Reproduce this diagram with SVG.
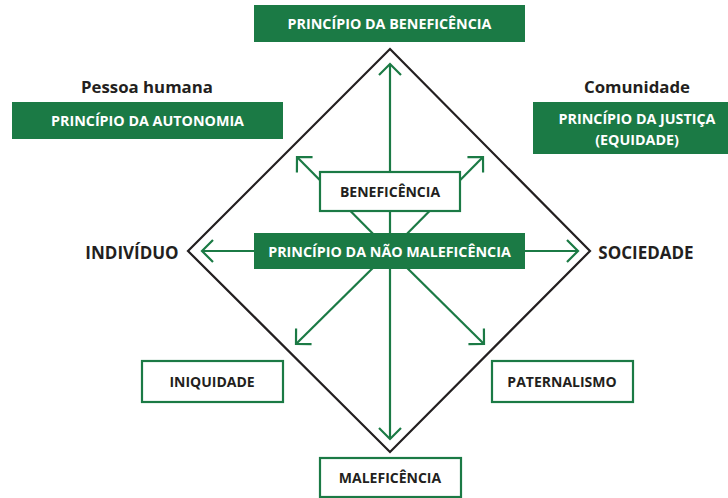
<svg xmlns="http://www.w3.org/2000/svg" width="728" height="498" viewBox="0 0 728 498">
<defs>
<style>
.gbox{fill:#1b7a45;}
.wbox{fill:#ffffff;stroke:#1b7a45;stroke-width:2.2;}
.wt{font-family:"Open Sans","Liberation Sans",sans-serif;font-weight:bold;font-size:14.3px;fill:#ffffff;text-anchor:middle;}
.dt{font-family:"Open Sans","Liberation Sans",sans-serif;font-weight:bold;font-size:14px;fill:#231f20;text-anchor:middle;}
.lab{font-family:"Open Sans","Liberation Sans",sans-serif;font-weight:bold;font-size:16.8px;fill:#231f20;text-anchor:middle;}
.big{font-family:"Open Sans","Liberation Sans",sans-serif;font-weight:bold;font-size:17px;fill:#231f20;text-anchor:middle;}
.arr{stroke:#1b7a45;stroke-width:2.2;fill:none;marker-end:url(#ah);}
</style>
<marker id="ah" markerUnits="userSpaceOnUse" markerWidth="30" markerHeight="30" viewBox="-15 -15 30 30" refX="0" refY="0" orient="auto">
<path d="M-11,-11 L0,0 L-11,11" fill="none" stroke="#1b7a45" stroke-width="2.2"/>
</marker>
</defs>
<rect width="728" height="498" fill="#ffffff"/>
<polygon id="diamond" points="390,49 590,251 390,452 188,251" fill="none" stroke="#231f20" stroke-width="2.2"/>
<g id="connectors">
<line class="arr" x1="390" y1="251" x2="390" y2="64"/>
<line class="arr" x1="390" y1="251" x2="297" y2="157"/>
<line class="arr" x1="390" y1="251" x2="483" y2="157"/>
<line class="arr" x1="390" y1="251" x2="202" y2="251"/>
<line class="arr" x1="390" y1="251" x2="578" y2="251"/>
<line class="arr" x1="390" y1="251" x2="296" y2="344"/>
<line class="arr" x1="390" y1="251" x2="484" y2="344"/>
<line class="arr" x1="390" y1="251" x2="390" y2="439"/>
</g>
<g id="beneficencia-principio">
<rect class="gbox" x="254" y="5" width="271" height="37"/>
<text class="wt" x="389.5" y="28.5">PRINCÍPIO DA BENEFICÊNCIA</text>
</g>
<g id="autonomia">
<text class="lab" x="147" y="93">Pessoa humana</text>
<rect class="gbox" x="12" y="102" width="271" height="37"/>
<text class="wt" x="147.5" y="125.5">PRINCÍPIO DA AUTONOMIA</text>
</g>
<g id="justica">
<text class="lab" x="637" y="93">Comunidade</text>
<rect class="gbox" x="533" y="102" width="195" height="52"/>
<text class="wt" x="637" y="123.5">PRINCÍPIO DA JUSTIÇA</text>
<text class="wt" x="637" y="144.5">(EQUIDADE)</text>
</g>
<g id="beneficencia">
<rect class="wbox" x="320" y="172" width="140" height="39"/>
<text class="dt" x="390" y="196.5">BENEFICÊNCIA</text>
</g>
<g id="nao-maleficencia">
<rect class="gbox" x="254" y="233" width="271" height="36"/>
<text class="wt" x="389.5" y="256.5">PRINCÍPIO DA NÃO MALEFICÊNCIA</text>
</g>
<g id="individuo">
<text class="big" x="132" y="259">INDIVÍDUO</text>
</g>
<g id="sociedade">
<text class="big" x="646" y="259">SOCIEDADE</text>
</g>
<g id="iniquidade">
<rect class="wbox" x="142" y="361" width="141" height="41"/>
<text class="dt" x="212" y="386.5">INIQUIDADE</text>
</g>
<g id="paternalismo">
<rect class="wbox" x="492" y="361" width="141" height="41"/>
<text class="dt" x="562" y="386.5">PATERNALISMO</text>
</g>
<g id="maleficencia">
<rect class="wbox" x="320" y="458" width="141" height="39"/>
<text class="dt" x="390" y="483">MALEFICÊNCIA</text>
</g>
</svg>
